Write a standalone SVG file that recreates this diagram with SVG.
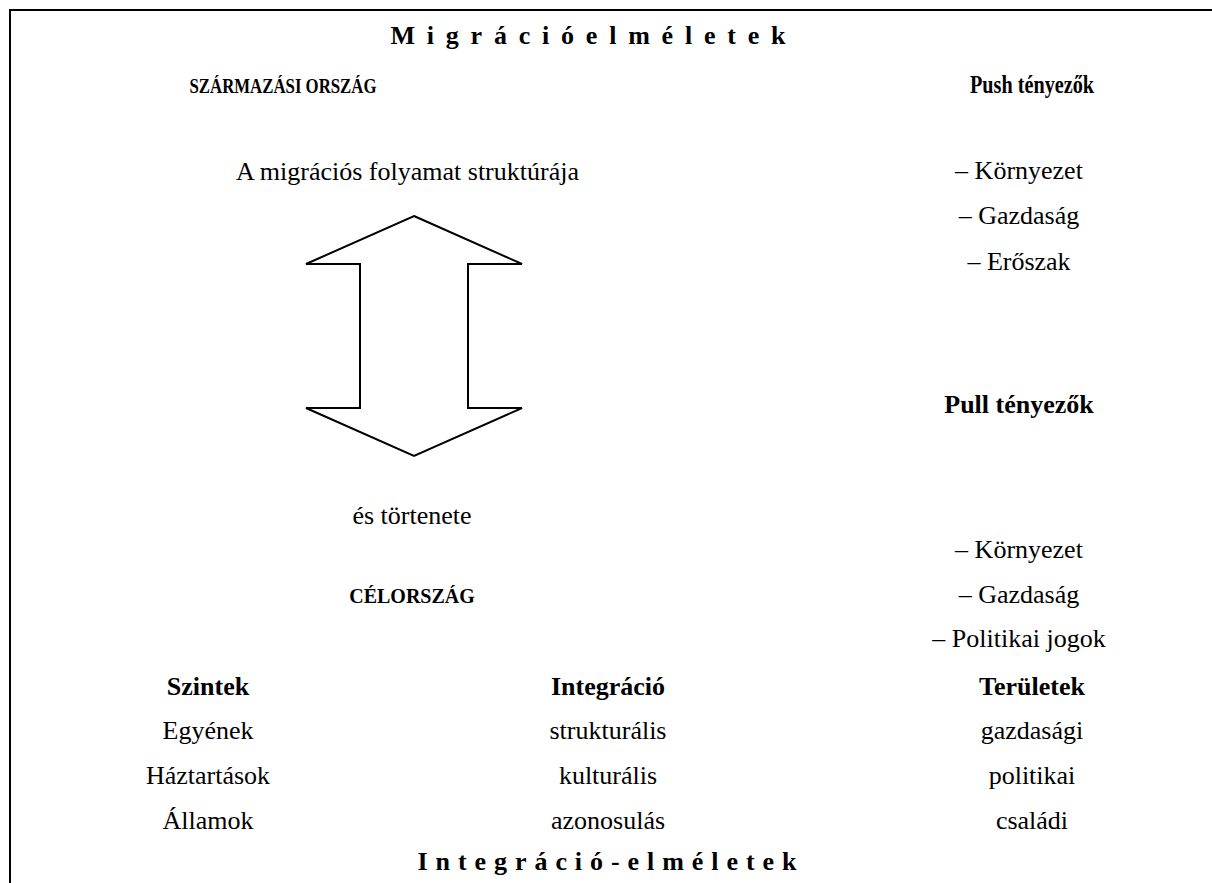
<svg xmlns="http://www.w3.org/2000/svg" width="1212" height="883" viewBox="0 0 1212 883">
<style>
text{font-family:"Liberation Serif","Times New Roman",serif;fill:#000;text-anchor:middle}
.r{font-size:26px}
.b{font-size:26px;font-weight:bold}
.caps{font-size:20px;font-weight:bold}
.frame{stroke:#000;stroke-width:2;fill:none}
.arrow{stroke:#000;stroke-width:2;fill:#fff;stroke-linejoin:miter}
</style>
<rect width="1212" height="883" fill="#fff"/>
<g id="frame">
<path class="frame" d="M10,883 V10 H1212"/>
</g>
<g id="title"><text class="b" x="588" y="44" textLength="395" lengthAdjust="spacing">Migrációelméletek</text></g>
<g id="origin"><text class="caps" x="283" y="93" textLength="187" lengthAdjust="spacingAndGlyphs">SZÁRMAZÁSI ORSZÁG</text></g>
<g id="push"><text class="b" x="1032" y="93" textLength="124" lengthAdjust="spacingAndGlyphs">Push tényezők</text></g>
<g id="structure"><text class="r" x="236" y="180" style="text-anchor:start">A migrációs folyamat struktúrája</text></g>
<g id="push-items">
<text class="r" x="1019" y="179">– Környezet</text>
<text class="r" x="1019" y="224">– Gazdaság</text>
<text class="r" x="1019" y="270">– Erőszak</text>
</g>
<g id="connectors">
<polygon class="arrow" points="414,216 522,264 468,264 468,408 522,408 414,456 306,408 360,408 360,264 306,264"/>
</g>
<g id="pull"><text class="b" x="1019" y="413">Pull tényezők</text></g>
<g id="history"><text class="r" x="412" y="524">és törtenete</text></g>
<g id="pull-items">
<text class="r" x="1019" y="558">– Környezet</text>
<text class="r" x="1019" y="603">– Gazdaság</text>
<text class="r" x="1019" y="647">– Politikai jogok</text>
</g>
<g id="destination"><text class="caps" x="412" y="603">CÉLORSZÁG</text></g>
<g id="levels">
<text class="b" x="208" y="695">Szintek</text>
<text class="r" x="208" y="739">Egyének</text>
<text class="r" x="208" y="784">Háztartások</text>
<text class="r" x="208" y="829">Államok</text>
</g>
<g id="integration">
<text class="b" x="608" y="695">Integráció</text>
<text class="r" x="608" y="739">strukturális</text>
<text class="r" x="608" y="784">kulturális</text>
<text class="r" x="608" y="829">azonosulás</text>
</g>
<g id="areas">
<text class="b" x="1032" y="695">Területek</text>
<text class="r" x="1032" y="739">gazdasági</text>
<text class="r" x="1032" y="784">politikai</text>
<text class="r" x="1032" y="829">családi</text>
</g>
<g id="integration-theories"><text class="b" x="607" y="870" textLength="379" lengthAdjust="spacing">Integráció-elméletek</text></g>
</svg>
